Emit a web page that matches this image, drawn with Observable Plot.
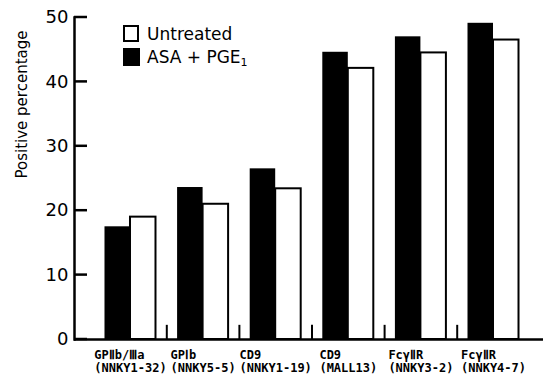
<!DOCTYPE html>
<html><head><meta charset="utf-8">
<script src="https://cdn.jsdelivr.net/npm/d3@7"></script>
<script src="https://cdn.jsdelivr.net/npm/@observablehq/plot@0.6"></script>
<style>
body{margin:0;background:#fff}
#wrap{position:relative;width:547px;height:377px;background:#fff}
#overlay{position:absolute;left:0;top:0;pointer-events:none;background:none}
</style></head>
<body><div id="wrap"></div>
<script>
const groups = ["GPⅡb/Ⅲa\n(NNKY1-32)", "GPⅠb\n(NNKY5-5)", "CD9\n(NNKY1-19)", "CD9\n(MALL13)", "FcγⅡR\n(NNKY3-2)", "FcγⅡR\n(NNKY4-7)"];
const seriesNames = ["Untreated", "ASA + PGE1"];
const untreated = [19.0, 21.0, 23.4, 42.1, 44.5, 46.5];
const asaPge = [17.5, 23.6, 26.5, 44.6, 47.0, 49.1];
const yTicks = [0, 10, 20, 30, 40, 50];
const separatorHeight = 2.2;
const yLabel = "Positive percentage";

const rows = groups.map((g, i) => ({group: g, untreated: untreated[i], asa: asaPge[i]}));

const W = 547, H = 377;
const mL = 74, mR = 4;
const xRange = [74, 549], pIn = 0.2975, pOut = 0.42;
const step = (xRange[1] - xRange[0]) / (groups.length - pIn + 2 * pOut);
const bw = step * (1 - pIn);
const labelFont = 12, charW = 0.602 * labelFont;
const tickLen = 13;

const labelMarks = groups.map(g => {
  const maxLen = Math.max(...g.split("\n").map(s => s.length));
  return Plot.text([g], {
    x: d => d, frameAnchor: "bottom", text: d => d,
    textAnchor: "start", lineAnchor: "top", lineHeight: 1.12,
    dx: -maxLen * charW / 2, dy: 10,
    fontFamily: "DejaVu Sans Mono", fontWeight: "bold", fontSize: labelFont, fill: "#000"
  });
});

const chart = Plot.plot({
  width: W, height: H,
  marginLeft: mL, marginTop: 17, marginBottom: 38, marginRight: mR,
  style: {background: "#fff", fontFamily: "DejaVu Sans"},
  x: {domain: groups, range: xRange, paddingInner: pIn, paddingOuter: pOut, round: false, axis: null},
  y: {domain: [0, 50], axis: null},
  marks: [
    Plot.barY(rows, {x: "group", y: "asa", fill: "#000", insetRight: bw / 2}),
    Plot.barY(rows, {x: "group", y: "untreated", fill: "#fff", stroke: "#000", strokeWidth: 2, insetLeft: bw / 2}),
    Plot.ruleX(groups.slice(1), {x: d => d, y1: 0, y2: separatorHeight, dx: -step / 2, stroke: "#000", strokeWidth: 2}),
    Plot.ruleY([0], {stroke: "#000", strokeWidth: 2.5}),
    Plot.axisY(yTicks, {tickSize: 0, tickPadding: 6, fontSize: 18, fontFamily: "DejaVu Sans", fill: "#000", label: null}),
    Plot.frame({anchor: "left", stroke: "#000", strokeWidth: 2.5}),
    Plot.text([yLabel], {frameAnchor: "left", text: d => d, rotate: -90, dx: -52, fontSize: 15, fontFamily: "DejaVu Sans", fill: "#000"}),
    ...labelMarks
  ]
});

const wrap = document.getElementById("wrap");
wrap.appendChild(chart);

const ns = "http://www.w3.org/2000/svg";
const ov = document.createElementNS(ns, "svg");
ov.setAttribute("id", "overlay");
ov.setAttribute("width", W); ov.setAttribute("height", H);
ov.innerHTML = `
  <rect x="124" y="26" width="14" height="15" fill="#fff" stroke="#000" stroke-width="2"/>
  <text x="147" y="40" font-family="DejaVu Sans" font-size="17" fill="#000">${seriesNames[0]}</text>
  <rect x="123" y="48" width="17" height="18" fill="#000"/>
  <text x="147" y="63" font-family="DejaVu Sans" font-size="17" fill="#000">ASA + PGE<tspan font-size="11" dy="3">1</tspan></text>`;
// inward y ticks, positioned through the chart's own y scale
const yScale = chart.scale("y");
for (const t of yTicks) {
  const ln = document.createElementNS(ns, "line");
  const yy = yScale.apply(t);
  ln.setAttribute("x1", mL); ln.setAttribute("x2", mL + tickLen);
  ln.setAttribute("y1", yy); ln.setAttribute("y2", yy);
  ln.setAttribute("stroke", "#000"); ln.setAttribute("stroke-width", "2.5");
  ov.appendChild(ln);
}
wrap.appendChild(ov);
</script></body></html>
